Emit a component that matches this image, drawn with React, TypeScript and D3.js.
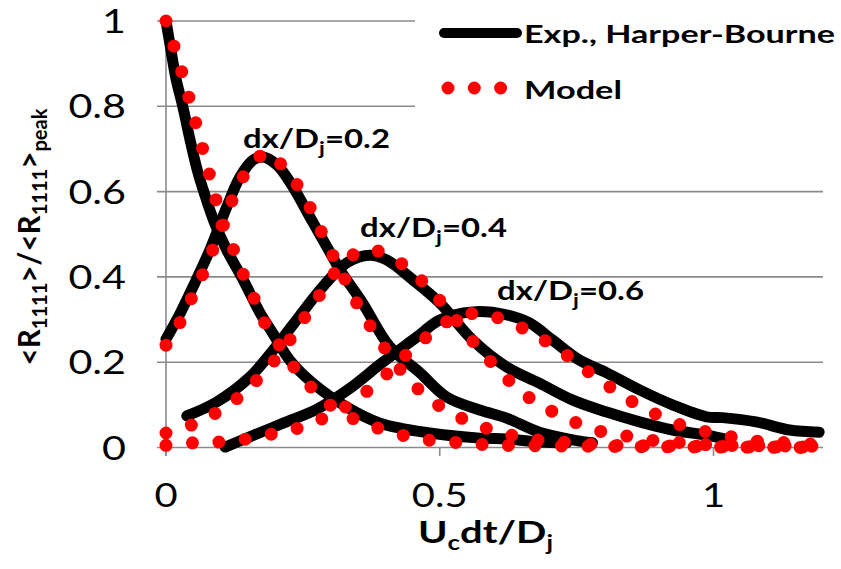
import React from 'react';
import * as d3 from 'd3';

const W = 841;
const H = 569;

const xTicks = [0, 0.5, 1];
const xTickLabels = ['0', '0.5', '1'];
const yTicks = [0, 0.2, 0.4, 0.6, 0.8, 1];
const yTickLabels = ['0', '0.2', '0.4', '0.6', '0.8', '1'];

// Experimental (Harper-Bourne) curves
const expA_x = [0, 0.009, 0.018, 0.031, 0.044, 0.057, 0.071, 0.088, 0.111, 0.141, 0.172, 0.195, 0.226, 0.268, 0.330, 0.391, 0.482, 0.573, 0.622, 0.682, 0.732];
const expA_y = [1.0, 0.932, 0.866, 0.798, 0.721, 0.651, 0.592, 0.529, 0.463, 0.393, 0.315, 0.268, 0.205, 0.151, 0.095, 0.057, 0.034, 0.022, 0.020, 0.013, 0.011];

const expB_x = [0, 0.026, 0.049, 0.080, 0.111, 0.135, 0.159, 0.177, 0.203, 0.232, 0.263, 0.294, 0.318, 0.359, 0.409, 0.464, 0.513, 0.573, 0.622, 0.682, 0.743, 0.779];
const expB_y = [0.254, 0.315, 0.376, 0.463, 0.564, 0.634, 0.674, 0.681, 0.662, 0.611, 0.540, 0.470, 0.416, 0.339, 0.236, 0.175, 0.118, 0.088, 0.069, 0.036, 0.018, 0.011];

const expC_x = [0.038, 0.093, 0.153, 0.200, 0.245, 0.285, 0.330, 0.372, 0.403, 0.451, 0.500, 0.560, 0.622, 0.682, 0.743, 0.805, 0.865, 0.925, 0.987, 1.029];
const expC_y = [0.074, 0.107, 0.165, 0.235, 0.310, 0.375, 0.433, 0.451, 0.440, 0.393, 0.339, 0.252, 0.189, 0.151, 0.111, 0.083, 0.060, 0.041, 0.029, 0.018];

const expD_x = [0.108, 0.153, 0.214, 0.276, 0.334, 0.396, 0.458, 0.500, 0.560, 0.622, 0.664, 0.706, 0.755, 0.805, 0.865, 0.925, 0.987, 1.016, 1.078, 1.139, 1.193];
const expD_y = [0.001, 0.025, 0.057, 0.090, 0.137, 0.200, 0.259, 0.299, 0.318, 0.311, 0.292, 0.252, 0.205, 0.175, 0.135, 0.100, 0.072, 0.070, 0.060, 0.041, 0.036];

// Model curves
const modA_x = [0, 0.029, 0.055, 0.080, 0.104, 0.126, 0.144, 0.164, 0.184, 0.212, 0.239, 0.270, 0.310, 0.352, 0.398, 0.445, 0.493, 0.542, 0.591, 0.7, 0.85, 1.0, 1.2];
const modA_y = [1.0, 0.880, 0.758, 0.637, 0.524, 0.456, 0.397, 0.341, 0.283, 0.231, 0.179, 0.135, 0.090, 0.062, 0.041, 0.025, 0.015, 0.011, 0.006, 0.004, 0.002, 0.001, 0.0];

const modB_x = [0, 0.026, 0.047, 0.068, 0.086, 0.104, 0.122, 0.144, 0.175, 0.192, 0.215, 0.245, 0.268, 0.288, 0.310, 0.332, 0.354, 0.380, 0.407, 0.436, 0.471, 0.511, 0.555, 0.600, 0.646, 0.695, 0.743, 0.792, 0.9, 1.05, 1.2];
const modB_y = [0.240, 0.294, 0.351, 0.409, 0.465, 0.526, 0.583, 0.641, 0.686, 0.690, 0.655, 0.606, 0.550, 0.494, 0.437, 0.381, 0.325, 0.271, 0.219, 0.170, 0.125, 0.088, 0.060, 0.039, 0.025, 0.015, 0.011, 0.006, 0.004, 0.002, 0.001];

const modC_x = [0, 0.047, 0.091, 0.131, 0.166, 0.199, 0.230, 0.255, 0.283, 0.310, 0.347, 0.370, 0.394, 0.436, 0.471, 0.504, 0.536, 0.566, 0.599, 0.633, 0.672, 0.714, 0.759, 0.805, 0.852, 0.898, 0.947, 0.996, 1.1, 1.2];
const modC_y = [0.034, 0.053, 0.081, 0.116, 0.158, 0.205, 0.259, 0.308, 0.362, 0.412, 0.456, 0.463, 0.458, 0.426, 0.386, 0.339, 0.290, 0.240, 0.193, 0.149, 0.109, 0.079, 0.053, 0.034, 0.025, 0.015, 0.011, 0.006, 0.004, 0.003];

const modD_x = [0, 0.049, 0.099, 0.148, 0.195, 0.243, 0.288, 0.330, 0.370, 0.407, 0.440, 0.478, 0.516, 0.568, 0.613, 0.659, 0.699, 0.741, 0.779, 0.819, 0.861, 0.905, 0.951, 0.998, 1.046, 1.093, 1.142, 1.2];
const modD_y = [0.005, 0.011, 0.013, 0.020, 0.032, 0.046, 0.069, 0.097, 0.135, 0.177, 0.219, 0.261, 0.297, 0.315, 0.301, 0.275, 0.245, 0.208, 0.170, 0.135, 0.100, 0.072, 0.048, 0.034, 0.022, 0.013, 0.011, 0.006];

const expSeries = [[expA_x, expA_y], [expB_x, expB_y], [expC_x, expC_y], [expD_x, expD_y]];
const modSeries = [[modA_x, modA_y], [modB_x, modB_y], [modC_x, modC_y], [modD_x, modD_y]];

const annotations = ['0.2', '0.4', '0.6'];

const FONT = 'Lato, "Open Sans", sans-serif';
const SX = 1.25;

export default function App() {
  const x = d3.scaleLinear().domain([0, 1.2]).range([166, 823]);
  const y = d3.scaleLinear().domain([0, 1]).range([447.5, 21]);
  const line = d3
    .line<[number, number]>()
    .x((d) => x(d[0]))
    .y((d) => y(d[1]))
    .curve(d3.curveCatmullRom.alpha(0.5));
  const toPts = (xs: number[], ys: number[]) => xs.map((v, i) => [v, ys[i]] as [number, number]);

  const grid = '#8a8a8a';
  const annPos = [
    { x: 243, y: 148, w: 147 },
    { x: 360, y: 237, w: 147 },
    { x: 497, y: 300, w: 147 },
  ];

  return (
    <svg width={W} height={H} style={{ position: 'absolute', left: 0, top: 0, background: '#fff' }} fontFamily={FONT}>
      <rect x={0} y={0} width={W} height={H} fill="#fff" />
      {yTicks.map((t, i) => (
        <line key={'g' + i} x1={157} x2={823} y1={y(t)} y2={y(t)} stroke={grid} strokeWidth={1.6} />
      ))}
      <line x1={166} x2={166} y1={y(1)} y2={456} stroke={grid} strokeWidth={1.6} />
      {xTicks.map((t, i) => (
        <line key={'xt' + i} x1={x(t)} x2={x(t)} y1={y(0)} y2={456} stroke={grid} strokeWidth={1.6} />
      ))}
      <rect x={415} y={0} width={W - 415} height={116} fill="#fff" />

      {expSeries.map((s, i) => (
        <path key={'e' + i} d={line(toPts(s[0], s[1])) || ''} fill="none" stroke="#000" strokeWidth={11} strokeLinecap="round" strokeLinejoin="round" />
      ))}
      {modSeries.map((s, i) => (
        <path key={'m' + i} d={line(toPts(s[0], s[1])) || ''} fill="none" stroke="#ff0000" strokeWidth={13} strokeLinecap="round" strokeDasharray="0 26.5" />
      ))}

      {yTicks.map((t, i) => (
        <g key={'yl' + i} transform={`translate(126,${y(t) + 12}) scale(${SX},1)`}>
          <text textAnchor="end" fontSize={33} fill="#000">{yTickLabels[i]}</text>
        </g>
      ))}
      {xTicks.map((t, i) => (
        <g key={'xl' + i} transform={`translate(${x(t)},507) scale(${SX},1)`}>
          <text textAnchor="middle" fontSize={32} fill="#000">{xTickLabels[i]}</text>
        </g>
      ))}

      {annotations.map((a, i) => (
        <text key={'an' + i} x={annPos[i].x} y={annPos[i].y} fontSize={27} fontWeight="bold" fill="#000" textLength={annPos[i].w} lengthAdjust="spacingAndGlyphs">
          dx/D<tspan dy={7} fontSize={19}>j</tspan><tspan dy={-7}>={a}</tspan>
        </text>
      ))}

      <line x1={444} x2={517} y1={33} y2={33} stroke="#000" strokeWidth={10} strokeLinecap="round" />
      <text x={524} y={43} fontSize={25} fontWeight="bold" fill="#000" textLength={311} lengthAdjust="spacingAndGlyphs">Exp., Harper-Bourne</text>
      <path d="M448,88 L501,88" stroke="#ff0000" strokeWidth={13} strokeLinecap="round" strokeDasharray="0 26.3" fill="none" />
      <text x={524} y={99} fontSize={25} fontWeight="bold" fill="#000" textLength={98} lengthAdjust="spacingAndGlyphs">Model</text>

      <text x={418} y={543} fontSize={31} fontWeight="bold" fill="#000" textLength={135} lengthAdjust="spacingAndGlyphs">
        U<tspan dy={7} fontSize={20}>c</tspan><tspan dy={-7}>dt/D</tspan><tspan dy={7} fontSize={20}>j</tspan>
      </text>

      <text transform="translate(40,237) rotate(-90)" textAnchor="middle" fontSize={31} fontWeight="bold" fill="#000" textLength={257} lengthAdjust="spacingAndGlyphs">
        &lt;R<tspan dy={7} fontSize={21}>1111</tspan><tspan dy={-7}>&gt;/&lt;R</tspan><tspan dy={7} fontSize={21}>1111</tspan><tspan dy={-7}>&gt;</tspan><tspan dy={7} fontSize={21}>peak</tspan>
      </text>
    </svg>
  );
}
